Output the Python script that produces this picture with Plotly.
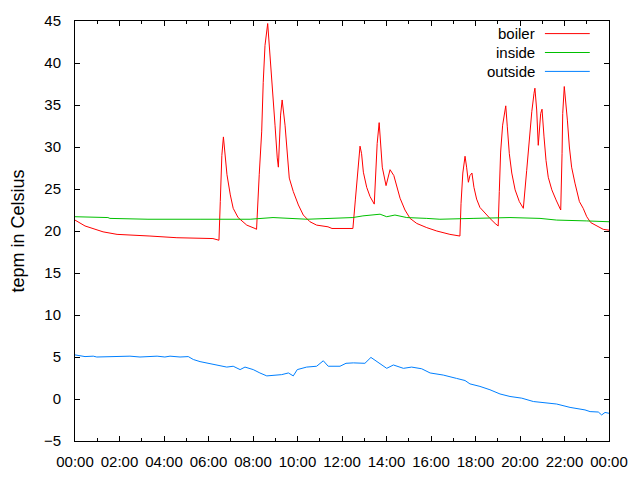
import pandas as pd
import plotly.graph_objects as go

# readings over one day, time in decimal hours
boiler_hours = [0.00, 0.45, 1.26, 1.89, 3.37, 4.58, 6.20, 6.40, 6.47, 6.53, 6.60, 6.67, 6.72, 6.83, 6.98,
                7.11, 7.33, 7.72, 8.09, 8.16, 8.28, 8.39, 8.46, 8.54, 8.66, 8.76, 8.87, 8.99, 9.09,
                9.14, 9.24, 9.31, 9.44, 9.54, 9.63, 9.81, 10.04, 10.26, 10.56, 10.86, 11.37, 11.55,
                12.49, 12.60, 12.69, 12.76, 12.81, 12.88, 12.96, 13.11, 13.26, 13.45, 13.51, 13.58,
                13.67, 13.75, 13.81, 13.98, 14.08, 14.16, 14.33, 14.42, 14.61, 14.83, 15.06, 15.36,
                15.81, 16.26, 16.85, 17.30, 17.35, 17.43, 17.53, 17.60, 17.68, 17.75, 17.84, 17.93,
                18.05, 18.20, 18.43, 18.65, 18.88, 19.02, 19.07, 19.13, 19.22, 19.36, 19.43, 19.52,
                19.63, 19.78, 19.97, 20.15, 20.30, 20.42, 20.53, 20.63, 20.67, 20.75, 20.82, 20.93,
                20.99, 21.08, 21.17, 21.27, 21.43, 21.62, 21.83, 21.89, 21.92, 21.99, 22.07, 22.13,
                22.22, 22.32, 22.47, 22.67, 22.84, 23.00, 23.18, 23.45, 23.74, 24.00]
boiler_temp = [21.3, 20.6, 19.9, 19.6, 19.4, 19.2, 19.1, 18.9, 18.9, 23.5, 29.0, 31.2, 30.0, 26.7, 24.3,
               22.7, 21.6, 20.7, 20.3, 20.2, 26.7, 31.8, 37.7, 42.1, 44.7, 41.3, 37.0, 32.6, 28.7,
               27.6, 33.8, 35.6, 32.6, 29.0, 26.3, 24.7, 23.1, 21.9, 21.1, 20.7, 20.5, 20.3,
               20.3, 23.7, 26.4, 29.0, 30.1, 29.2, 27.0, 25.2, 24.1, 23.2, 26.4, 30.4,
               32.9, 30.4, 27.6, 25.4, 26.6, 27.3, 26.6, 25.8, 23.9, 22.5, 21.5, 20.9,
               20.4, 20.0, 19.6, 19.4, 23.3, 26.9, 28.9, 27.6, 25.8, 26.6, 26.9, 25.2,
               23.8, 22.8, 22.1, 21.5, 20.9, 20.6, 24.7, 29.4, 32.6, 34.9, 32.4, 29.2,
               26.9, 24.9, 23.5, 22.7, 27.2, 31.2, 34.2, 36.4, 37.0, 34.4, 30.2, 34.0,
               34.5, 31.2, 28.4, 26.4, 24.9, 23.7, 22.5, 29.2, 34.0, 37.2, 35.2, 33.2,
               30.0, 27.6, 25.7, 23.5, 22.7, 21.7, 21.0, 20.6, 20.2, 20.1]

inside_hours = [0.00, 1.48, 1.57, 3.28, 5.62, 7.87, 8.90, 10.43, 12.49, 12.94, 13.71, 14.01, 14.38,
                14.91, 15.81, 16.40, 17.89, 19.55, 20.90, 21.65, 23.00, 24.00]
inside_temp = [21.7, 21.6, 21.5, 21.4, 21.4, 21.4, 21.6, 21.4, 21.6, 21.8, 22.0, 21.7, 21.9,
               21.6, 21.5, 21.4, 21.5, 21.6, 21.5, 21.3, 21.2, 21.1]

outside_hours = [0.00, 0.45, 0.82, 0.98, 2.47, 2.92, 3.69, 4.04, 4.27, 4.72, 5.09, 5.32, 5.62, 5.92,
                 6.37, 6.82, 7.11, 7.42, 7.64, 8.01, 8.31, 8.62, 9.29, 9.59, 9.81, 9.99, 10.41,
                 10.86, 11.16, 11.38, 11.91, 12.18, 12.51, 13.03, 13.30, 13.63, 14.01, 14.31, 14.76,
                 15.13, 15.58, 15.96, 16.55, 17.15, 17.53, 17.75, 18.20, 18.65, 19.10, 19.55, 20.08,
                 20.60, 21.20, 21.65, 22.25, 22.70, 22.92, 23.15, 23.52, 23.67, 23.82, 24.00]
outside_temp = [5.25, 5.05, 5.1, 5.0, 5.1, 5.0, 5.1, 5.0, 5.1, 5.0, 5.05, 4.7, 4.45, 4.3,
                4.05, 3.8, 3.9, 3.5, 3.8, 3.5, 3.1, 2.75, 2.9, 3.1, 2.75, 3.5, 3.8,
                3.9, 4.55, 3.9, 3.9, 4.25, 4.3, 4.25, 4.95, 4.3, 3.65, 4.05, 3.65,
                3.8, 3.6, 3.1, 2.85, 2.45, 2.2, 1.8, 1.5, 1.1, 0.6, 0.3, 0.1,
                -0.3, -0.5, -0.6, -1.0, -1.2, -1.3, -1.5, -1.55, -1.9, -1.6, -1.7]

day = pd.Timestamp("2014-01-01")


def to_time(hours):
    return [day + pd.Timedelta(hours=h) for h in hours]


series = [
    ("boiler", boiler_hours, boiler_temp, "#ff0000"),
    ("inside", inside_hours, inside_temp, "#00c000"),
    ("outside", outside_hours, outside_temp, "#0080ff"),
]

fig = go.Figure()
for name, hours, temps, color in series:
    fig.add_trace(go.Scatter(
        x=to_time(hours), y=temps, mode="lines", name=name,
        line=dict(color=color, width=1), showlegend=False,
    ))

# gnuplot-style key: text right-aligned, sample line on the right
key_y = [0.970, 0.925, 0.880]
for (name, _, _, color), ky in zip(series, key_y):
    fig.add_annotation(x=0.866, y=ky, xref="paper", yref="paper", text=name,
                       showarrow=False, xanchor="right", yanchor="middle",
                       font=dict(size=15, color="#000000"))
    fig.add_shape(type="line", xref="paper", yref="paper", x0=0.880, x1=0.964,
                  y0=ky, y1=ky, line=dict(color=color, width=1))

# page body adds an 8px offset, so the figure is sized to fit the window
fig.update_layout(
    width=632, height=472,
    margin=dict(l=67, r=31, t=13, b=39),
    paper_bgcolor="white", plot_bgcolor="white",
    font=dict(family="Liberation Sans, Arial, sans-serif", size=15, color="#000000"),
)
fig.update_xaxes(
    type="date", range=[day, day + pd.Timedelta(hours=24)],
    dtick=2 * 3600 * 1000, tick0=day, tickformat="%H:%M",
    ticks="inside", ticklen=5, tickcolor="black",
    minor=dict(dtick=3600 * 1000, ticks="inside", ticklen=3, tickcolor="black"),
    showline=True, linecolor="black", linewidth=1, mirror="ticks",
    showgrid=False, zeroline=False, ticklabelstandoff=7, automargin=False,
)
fig.update_yaxes(
    range=[-5, 45], dtick=5, tick0=0,
    ticks="inside", ticklen=5, tickcolor="black",
    showline=True, linecolor="black", linewidth=1, mirror="ticks",
    showgrid=False, zeroline=False, ticklabelstandoff=10, automargin=False,
    title=dict(text="tepm in Celsius", standoff=26),
)

fig.write_html("out.html")
